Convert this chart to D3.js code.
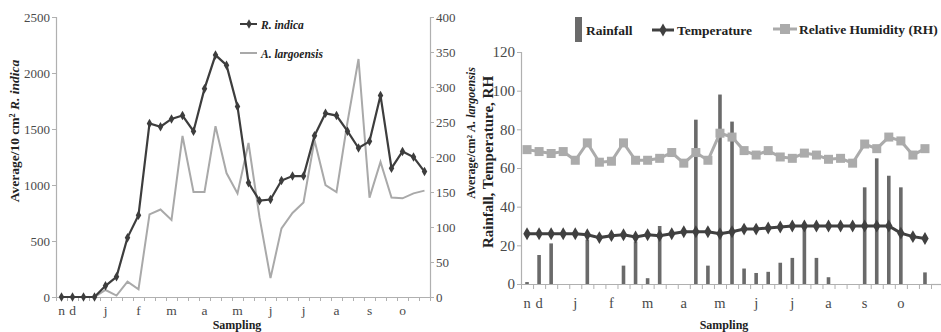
<!DOCTYPE html>
<html><head><meta charset="utf-8">
<script src="https://cdn.jsdelivr.net/npm/d3@7"></script>
<style>
body{margin:0;background:#fff;}
text{font-family:"Liberation Serif","Times New Roman",serif;}
</style></head>
<body>
<svg id="c" width="941" height="332"></svg>
<script>
// ---- data ----
const monthLabels = ["n","d","","","j","","","f","","","m","","","a","","","m","","","j","","","j","","","a","","","s","","","o","",""];
const rIndica = [0,0,0,0,100,180,530,730,1550,1520,1590,1620,1480,1860,2160,2070,1700,1020,860,870,1040,1080,1080,1440,1640,1620,1480,1330,1390,1800,1150,1300,1250,1120];
const aLargoensis = [0,0,0,0,10,2,22,11,118,125,110,230,150,150,244,177,148,220,114,27,98,120,135,224,160,150,250,340,142,193,142,141,148,152];
const rainfall = [1,15,21,0,0,23,0,0,9.5,22,3,30,0,0,85,9.5,98,84,8,5.7,6.3,11,13.5,30,13.5,3.5,0,0,50,65,56,50,0,6];
const temperature = [26,26,26,26,26,25.5,24,25,25.5,24.3,25.5,25,26,27,27,27,26,27,28.4,28.4,29,29.5,30,30,30,30,30,30,30,30,30,26.3,24.5,23.5];
const humidity = [69.5,68.5,67.5,68.5,64,73,63,63.5,73,64,64,65,68,62.5,68,64,78,76,69,66.7,69,65.7,65,67.7,66.7,64.5,65,62.5,72.4,70,76,74,66.7,70];
const leftTicks = [0,500,1000,1500,2000,2500];
const rightTicks = [0,50,100,150,200,250,300,350,400];
const envTicks = [0,20,40,60,80,100,120];

const svg = d3.select("#c");
const idx = d3.range(monthLabels.length);
const axisCol = "#b0b0b0", labCol = "#4a4a4a";
const SERIF = "Liberation Serif, Times New Roman, serif";

// ================= LEFT PANEL =================
const xL = d3.scaleBand().domain(idx).range([56,430]);
const xLc = i => xL(i) + xL.bandwidth()/2;
const yL = d3.scaleLinear().domain([0,2500]).range([297,17]);
const yR = d3.scaleLinear().domain([0,400]).range([297,17]);

function styleAxis(g, fs){
  g.attr("font-family",SERIF).attr("font-size",fs);
  g.select(".domain").attr("stroke",axisCol).attr("stroke-width",1.2);
  g.selectAll(".tick line").attr("stroke",axisCol);
  g.selectAll("text").attr("fill",labCol).attr("font-family",SERIF).attr("font-size",fs);
}

svg.append("g").attr("transform","translate(56,0)")
  .call(d3.axisLeft(yL).tickValues(leftTicks).tickFormat(d3.format("d")).tickSize(4).tickPadding(2))
  .call(g=>styleAxis(g,13));
svg.append("g").attr("transform","translate(430,0)")
  .call(d3.axisRight(yR).tickValues(rightTicks).tickFormat(d3.format("d")).tickSize(4).tickPadding(2))
  .call(g=>styleAxis(g,13));
const bL = d3.scaleLinear().domain([0,idx.length]).range([56,430]);
svg.append("g").attr("transform","translate(0,297)")
  .call(d3.axisBottom(bL).tickValues(d3.range(idx.length+1)).tickFormat("").tickSize(4).tickSizeOuter(0))
  .call(g=>styleAxis(g,13));
svg.append("g").attr("transform","translate(0,297)")
  .call(d3.axisBottom(xL).tickFormat(i=>monthLabels[i]).tickSize(0).tickPadding(8))
  .call(g=>{g.select(".domain").remove(); styleAxis(g,13.5);});

svg.append("path").datum(aLargoensis)
  .attr("fill","none").attr("stroke","#a9a9a9").attr("stroke-width",2)
  .attr("d", d3.line().x((d,i)=>xLc(i)).y(d=>yR(d)));
svg.append("path").datum(rIndica)
  .attr("fill","none").attr("stroke","#3d3d3d").attr("stroke-width",2.2)
  .attr("d", d3.line().x((d,i)=>xLc(i)).y(d=>yL(d)));
const dia = d3.symbol().type(d3.symbolDiamond).size(26);
svg.append("g").selectAll("path").data(rIndica).join("path")
  .attr("d",dia).attr("fill","#3d3d3d")
  .attr("transform",(d,i)=>`translate(${xLc(i)},${yL(d)})`);

// left legend
svg.append("line").attr("x1",240).attr("x2",257).attr("y1",24).attr("y2",24).attr("stroke","#3d3d3d").attr("stroke-width",2);
svg.append("path").attr("d",dia).attr("fill","#3d3d3d").attr("transform","translate(249,24)");
svg.append("text").attr("x",261).attr("y",28.5).text("R. indica")
  .style("font-size","11.5px").style("font-weight","bold").style("font-style","italic").attr("fill","#222");
svg.append("line").attr("x1",240).attr("x2",257).attr("y1",53).attr("y2",53).attr("stroke","#a9a9a9").attr("stroke-width",2);
svg.append("text").attr("x",261).attr("y",57.5).text("A. largoensis")
  .style("font-size","11.5px").style("font-weight","bold").style("font-style","italic").attr("fill","#222");

// left titles
const t1 = svg.append("text").attr("transform","translate(19,131) rotate(-90)").attr("text-anchor","middle")
  .style("font-size","13.5px").style("font-weight","bold").attr("fill","#222");
t1.append("tspan").text("Average/10 cm² ");
t1.append("tspan").style("font-style","italic").text("R. indica");
const t2 = svg.append("text").attr("transform","translate(475,133) rotate(-90)").attr("text-anchor","middle")
  .style("font-size","12px").style("font-weight","bold").attr("fill","#222");
t2.append("tspan").text("Average/cm² ");
t2.append("tspan").style("font-style","italic").text("A. largoensis");
svg.append("text").attr("x",237).attr("y",329).attr("text-anchor","middle")
  .style("font-size","12px").style("font-weight","bold").attr("fill","#222").text("Sampling");

// ================= RIGHT PANEL =================
const xE = d3.scaleBand().domain(idx).range([521,931]);
const xEc = i => xE(i) + xE.bandwidth()/2;
const yE = d3.scaleLinear().domain([0,120]).range([284,52]);

svg.append("g").attr("transform","translate(521,0)")
  .call(d3.axisLeft(yE).tickValues(envTicks).tickFormat(d3.format("d")).tickSize(4).tickPadding(2))
  .call(g=>styleAxis(g,15));
const bE = d3.scaleLinear().domain([0,idx.length]).range([521,931]);
svg.append("g").attr("transform","translate(0,284)")
  .call(d3.axisBottom(bE).tickValues(d3.range(idx.length+1)).tickFormat("").tickSize(5).tickSizeOuter(0))
  .call(g=>styleAxis(g,14));
svg.append("line").attr("x1",931).attr("x2",941).attr("y1",284.5).attr("y2",284.5).attr("stroke",axisCol).attr("stroke-width",1.2);
svg.append("g").attr("transform","translate(0,284)")
  .call(d3.axisBottom(xE).tickFormat(i=>monthLabels[i]).tickSize(0).tickPadding(14))
  .call(g=>{g.select(".domain").remove(); styleAxis(g,14.5);});

svg.append("g").selectAll("rect").data(rainfall).join("rect")
  .attr("x",(d,i)=>xEc(i)-1.8).attr("width",3.6)
  .attr("y",d=>yE(d)).attr("height",d=>yE(0)-yE(d)).attr("fill","#6a6a6a");
svg.append("path").datum(humidity).attr("fill","none").attr("stroke","#ababab").attr("stroke-width",3)
  .attr("d",d3.line().x((d,i)=>xEc(i)).y(d=>yE(d)));
svg.append("g").selectAll("rect").data(humidity).join("rect")
  .attr("x",(d,i)=>xEc(i)-4.5).attr("y",d=>yE(d)-4.5).attr("width",9).attr("height",9).attr("fill","#ababab");
svg.append("path").datum(temperature).attr("fill","none").attr("stroke","#404040").attr("stroke-width",3)
  .attr("d",d3.line().x((d,i)=>xEc(i)).y(d=>yE(d)));
const bigDia = d3.symbol().type(d3.symbolDiamond).size(48);
svg.append("g").selectAll("path").data(temperature).join("path")
  .attr("d",bigDia).attr("fill","#404040")
  .attr("transform",(d,i)=>`translate(${xEc(i)},${yE(d)})`);

// right legend
svg.append("rect").attr("x",575).attr("y",17).attr("width",7).attr("height",25).attr("fill","#6a6a6a");
svg.append("text").attr("x",586).attr("y",35).text("Rainfall")
  .style("font-size","13.5px").style("font-weight","bold").attr("fill","#222");
svg.append("line").attr("x1",652).attr("x2",674).attr("y1",30).attr("y2",30).attr("stroke","#404040").attr("stroke-width",3);
svg.append("path").attr("d",bigDia).attr("fill","#404040").attr("transform","translate(663,30)");
svg.append("text").attr("x",677).attr("y",35).text("Temperature")
  .style("font-size","13.5px").style("font-weight","bold").attr("fill","#222");
svg.append("line").attr("x1",773).attr("x2",797).attr("y1",29).attr("y2",29).attr("stroke","#ababab").attr("stroke-width",3);
svg.append("rect").attr("x",780).attr("y",24).attr("width",10).attr("height",10).attr("fill","#ababab");
svg.append("text").attr("x",799).attr("y",34).text("Relative Humidity (RH)")
  .style("font-size","13.5px").style("font-weight","bold").attr("fill","#222");

svg.append("text").attr("transform","translate(493,162) rotate(-90)").attr("text-anchor","middle")
  .style("font-size","15px").style("font-weight","bold").attr("fill","#222").text("Rainfall, Temperature, RH");
svg.append("text").attr("x",724).attr("y",329).attr("text-anchor","middle")
  .style("font-size","12px").style("font-weight","bold").attr("fill","#222").text("Sampling");
</script>
</body></html>
